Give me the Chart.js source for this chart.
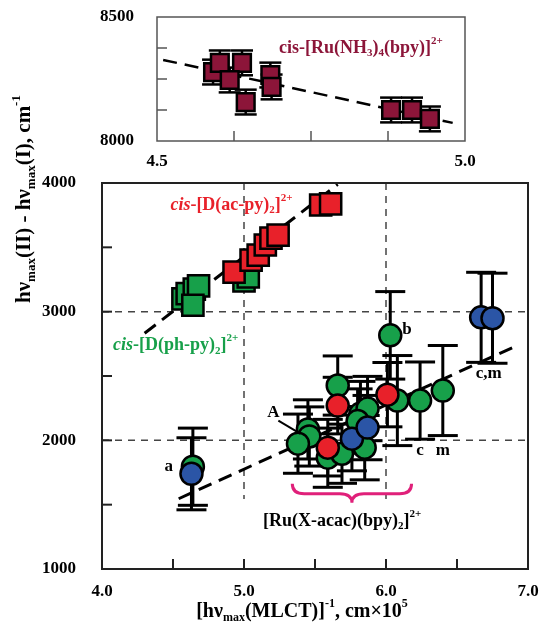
<!DOCTYPE html>
<html>
<head>
<meta charset="utf-8">
<script src="https://cdn.jsdelivr.net/npm/chart.js@4.4.0/dist/chart.umd.min.js"></script>
<style>
  html, body { margin: 0; padding: 0; background: #fff; overflow: hidden; }
  #wrap { position: relative; width: 541px; height: 631px; }
  canvas { position: absolute; left: 0; top: 0; }
</style>
</head>
<body>
<div id="wrap">
  <canvas id="mainChart" width="541" height="631" style="width:541px;height:631px"></canvas>
  <canvas id="insetChart" width="541" height="175" style="width:541px;height:175px"></canvas>
</div>
<script>
// main panel: squares (cis-[D(L)2]2+ series)
const sqRedX = [4.93, 5.05, 5.10, 5.15, 5.19, 5.24, 5.54, 5.61];
const sqRedY = [3307, 3400, 3440, 3518, 3572, 3595, 3829, 3837];
const sqGreenX = [4.57, 4.60, 4.65, 4.68, 4.64, 5.00, 5.03];
const sqGreenY = [3100, 3140, 3175, 3200, 3050, 3240, 3270];

// main panel: circles with error bars ([Ru(X-acac)(bpy)2]2+)
const cGreenX = [4.64, 5.45, 5.46, 5.38, 5.59, 5.69, 5.66, 5.82, 5.87, 5.85, 5.80, 6.03, 6.08, 6.24, 6.40];
const cGreenY = [1795, 2085, 2030, 1974, 1865, 1896, 2426, 2208, 2247, 1943, 2150, 2816, 2309, 2309, 2387];
const cGreenErr = [300, 230, 230, 230, 230, 230, 230, 250, 250, 250, 250, 340, 350, 300, 350];
const cRedX = [5.59, 5.66, 6.01];
const cRedY = [1943, 2270, 2355];
const cRedErr = [220, 220, 250];
const cBlueX = [4.63, 5.76, 5.87, 6.67, 6.75];
const cBlueY = [1740, 2013, 2099, 2956, 2949];
const cBlueErr = [280, 250, 250, 350, 350];

// fitted dashed lines (end points)
const fitSqX = [4.30, 5.66];
const fitSqY = [2832, 3990];
const fitCircX = [4.54, 6.93];
const fitCircY = [1546, 2740];

// inset: cis-[Ru(NH3)4(bpy)]2+
const insX = [4.591, 4.602, 4.638, 4.618, 4.644, 4.684, 4.686, 4.880, 4.914, 4.943];
const insY = [8278, 8315, 8315, 8246, 8157, 8266, 8218, 8125, 8125, 8089];
const insErr = 50;
const fitInsX = [4.51, 4.98];
const fitInsY = [8327, 8073];

// axis ticks
const mainMinorX = [4.5, 5.0, 5.5, 6.0, 6.5];
const mainMinorY = [1500, 2000, 2500, 3000, 3500];
const mainGridX = [5.0, 6.0];
const mainGridY = [2000, 3000];
const mainGridXBottom = 1545;   // vertical dashed lines stop here
const insMinorX = [4.625, 4.75, 4.875];
const insMinorY = [8125, 8250, 8375];

const RED = '#e8212a';
const GREEN = '#17a04a';
const BLUE = '#2b55a6';
const WINE = '#8c1539';
const SERIF = '"Liberation Serif", "Times New Roman", serif';

function pts(xs, ys) {
    return xs.map((x, i) => ({ x: x, y: ys[i] }));
}

// text with italic / sub / sup pieces, centred on (cx, cy)
function fontFor(kind, size) {
    const s = (kind === 'sub' || kind === 'sup') ? Math.round(size * 0.62) : size;
    return (kind === 'i' ? 'italic ' : '') + 'bold ' + s + 'px ' + SERIF;
}
function drawRich(ctx, parts, cx, cy, size, color) {
    let w = 0;
    parts.forEach(p => { ctx.font = fontFor(p[1], size); w += ctx.measureText(p[0]).width; });
    let x = cx - w / 2;
    ctx.fillStyle = color;
    ctx.textAlign = 'left';
    ctx.textBaseline = 'middle';
    parts.forEach(p => {
        ctx.font = fontFor(p[1], size);
        let dy = 0;
        if (p[1] === 'sub') dy = size * 0.3;
        if (p[1] === 'sup') dy = -size * 0.38;
        ctx.fillText(p[0], x, cy + dy);
        x += ctx.measureText(p[0]).width;
    });
}

function seg(ctx, x1, y1, x2, y2) {
    ctx.beginPath();
    ctx.moveTo(x1, y1);
    ctx.lineTo(x2, y2);
    ctx.stroke();
}

// dashed grid, error bars, inward ticks, x tick labels and frame
const framePlugin = {
    id: 'frame',
    beforeDatasetsDraw(chart, args, opts) {
        const { ctx, chartArea: a, scales: { x, y } } = chart;
        ctx.save();
        ctx.strokeStyle = '#444';
        ctx.lineWidth = 1.5;
        ctx.setLineDash([7, 6]);
        const gb = opts.gridXBottom !== undefined ? y.getPixelForValue(opts.gridXBottom) : a.bottom;
        (opts.gridX || []).forEach(v => { const p = x.getPixelForValue(v); seg(ctx, p, a.top, p, gb); });
        (opts.gridY || []).forEach(v => { const p = y.getPixelForValue(v); seg(ctx, a.left, p, a.right, p); });
        ctx.setLineDash([]);
        chart.data.datasets.forEach(ds => {
            if (ds.errors === undefined) return;
            ctx.strokeStyle = '#000';
            ctx.lineWidth = ds.errWidth || 3;
            ds.data.forEach((d, i) => {
                const e = Array.isArray(ds.errors) ? ds.errors[i] : ds.errors;
                const px = x.getPixelForValue(d.x);
                const top = y.getPixelForValue(d.y + e);
                const bot = y.getPixelForValue(d.y - e);
                const c = ds.capHalf;
                seg(ctx, px, top, px, bot);
                seg(ctx, px - c, top, px + c, top);
                seg(ctx, px - c, bot, px + c, bot);
            });
        });
        ctx.restore();
    },
    afterDraw(chart, args, opts) {
        const { ctx, chartArea: a, scales: { x, y } } = chart;
        ctx.save();
        ctx.strokeStyle = opts.frameColor;
        ctx.lineWidth = opts.frameWidth;
        (opts.ticksX || []).forEach(v => { const p = x.getPixelForValue(v); seg(ctx, p, a.bottom, p, a.bottom - opts.tickLen); });
        (opts.ticksY || []).forEach(v => { const p = y.getPixelForValue(v); seg(ctx, a.left, p, a.left + opts.tickLen, p); });
        ctx.strokeRect(a.left, a.top, a.right - a.left, a.bottom - a.top);
        // x tick labels from the scale's own ticks
        ctx.fillStyle = '#000';
        ctx.font = 'bold 17px ' + SERIF;
        ctx.textAlign = 'center';
        ctx.textBaseline = 'middle';
        x.ticks.forEach(t => ctx.fillText(t.value.toFixed(1), x.getPixelForValue(t.value), a.bottom + opts.xLabelOffset));
        if (opts.extra) opts.extra(chart);
        ctx.restore();
    }
};

const tickFont = { family: SERIF, size: 17, weight: 'bold' };

function mainExtras(chart) {
    const { ctx, scales: { x, y } } = chart;
    const X = v => x.getPixelForValue(v);
    const Y = v => y.getPixelForValue(v);

    drawRich(ctx, [['cis', 'i'], ['-[D(ac-py)', ''], ['2', 'sub'], [']', ''], ['2+', 'sup']], X(4.912), Y(3829), 18, RED);
    drawRich(ctx, [['cis', 'i'], ['-[D(ph-py)', ''], ['2', 'sub'], [']', ''], ['2+', 'sup']], X(4.519), Y(2738), 18, GREEN);
    drawRich(ctx, [['[Ru(X-acac)(bpy)', ''], ['2', 'sub'], [']', ''], ['2+', 'sup']], X(5.691), Y(1374), 18, '#000');

    // point labels
    [['a', 4.47, 1795], ['A', 5.207, 2216], ['b', 6.147, 2863], ['c', 6.239, 1920], ['m', 6.40, 1920], ['c,m', 6.723, 2520]]
        .forEach(l => drawRich(ctx, [[l[0], '']], X(l[1]), Y(l[2]), 17, '#000'));
    ctx.strokeStyle = '#000';
    ctx.lineWidth = 2;
    seg(ctx, X(5.242), Y(2153), X(5.396), Y(2052));

    // brace under the acac cluster
    const x1 = X(5.34), x2 = X(6.18), cx = X(5.76);
    const t = Y(1663), m = Y(1585), b = Y(1514);
    ctx.strokeStyle = '#e0207a';
    ctx.lineWidth = 3;
    ctx.beginPath();
    ctx.moveTo(x1, t);
    ctx.quadraticCurveTo(x1, m, x1 + 12, m);
    ctx.lineTo(cx - 12, m);
    ctx.quadraticCurveTo(cx, m, cx, b);
    ctx.quadraticCurveTo(cx, m, cx + 12, m);
    ctx.lineTo(x2 - 12, m);
    ctx.quadraticCurveTo(x2, m, x2, t);
    ctx.stroke();

    // axis titles
    drawRich(ctx, [['[hν', ''], ['max', 'sub'], ['(MLCT)]', ''], ['-1', 'sup'], [', cm×10', ''], ['5', 'sup']], 302, 612, 20, '#000');
    ctx.save();
    ctx.translate(25, 199);
    ctx.rotate(-Math.PI / 2);
    drawRich(ctx, [['hν', ''], ['max', 'sub'], ['(II) - hν', ''], ['max', 'sub'], ['(I), cm', ''], ['-1', 'sup']], 0, 0, 21, '#000');
    ctx.restore();
}

function insetExtras(chart) {
    const { ctx, scales: { x, y } } = chart;
    drawRich(ctx, [['cis-[Ru(NH', ''], ['3', 'sub'], [')', ''], ['4', 'sub'], ['(bpy)]', ''], ['2+', 'sup']],
        x.getPixelForValue(4.831), y.getPixelForValue(8375), 18, WINE);
}

function circles(xs, ys, errs, color, order) {
    return {
        data: pts(xs, ys), errors: errs, capHalf: 15, errWidth: 3,
        pointStyle: 'circle', pointRadius: 11, pointBorderWidth: 2.5,
        backgroundColor: color, borderColor: '#000', order: order
    };
}
function squares(xs, ys, color, radius, order) {
    return {
        data: pts(xs, ys), pointStyle: 'rect', pointRadius: radius, pointBorderWidth: 2.5,
        backgroundColor: color, borderColor: '#000', order: order
    };
}
function fitLine(xs, ys, width, order) {
    return {
        data: pts(xs, ys), showLine: true, pointRadius: 0, borderColor: '#000',
        borderWidth: width, borderDash: [14, 8], fill: false, order: order
    };
}

// fixed axis boxes
function fixHeight(h) {
    return s => { s.height = h; s.paddingLeft = 0; s.paddingRight = 0; };
}
function fixWidth(w) {
    return s => { s.width = w; s.paddingTop = 0; s.paddingBottom = 0; };
}

function createMainChart() {
    const ctx = document.getElementById('mainChart').getContext('2d');
    new Chart(ctx, {
        type: 'scatter',
        data: {
            datasets: [
                circles(cBlueX, cBlueY, cBlueErr, BLUE, 1),
                circles(cRedX, cRedY, cRedErr, RED, 2),
                circles(cGreenX, cGreenY, cGreenErr, GREEN, 3),
                squares(sqRedX, sqRedY, RED, 15, 4),
                squares(sqGreenX, sqGreenY, GREEN, 15, 5),
                fitLine(fitSqX, fitSqY, 3, 6),
                fitLine(fitCircX, fitCircY, 3, 7),
            ],
        },
        options: {
            responsive: false,
            animation: false,
            layout: { autoPadding: false, padding: { top: 183, right: 13, left: 0, bottom: 0 } },
            plugins: {
                legend: { display: false },
                tooltip: { enabled: false },
                frame: {
                    gridX: mainGridX, gridY: mainGridY, gridXBottom: mainGridXBottom,
                    ticksX: mainMinorX, ticksY: mainMinorY, xLabelOffset: 23,
                    tickLen: 10, frameColor: '#222', frameWidth: 2, extra: mainExtras
                },
            },
            scales: {
                x: {
                    type: 'linear', min: 4, max: 7,
                    afterFit: fixHeight(62),
                    grid: { display: false }, border: { display: false },
                    ticks: { stepSize: 1, display: false },
                },
                y: {
                    type: 'linear', min: 1000, max: 4000,
                    afterFit: fixWidth(102),
                    grid: { display: false }, border: { display: false },
                    ticks: { stepSize: 1000, padding: 18, color: '#000', font: tickFont, callback: v => String(v) },
                },
            },
        },
        plugins: [framePlugin],
    });
}

function createInsetChart() {
    const ctx = document.getElementById('insetChart').getContext('2d');
    new Chart(ctx, {
        type: 'scatter',
        data: {
            datasets: [
                Object.assign(squares(insX, insY, WINE, 12.5, 1), { errors: insErr, capHalf: 11, errWidth: 2.5 }),
                fitLine(fitInsX, fitInsY, 2.5, 2),
            ],
        },
        options: {
            responsive: false,
            animation: false,
            layout: { autoPadding: false, padding: { top: 17, right: 76, left: 0, bottom: 0 } },
            plugins: {
                legend: { display: false },
                tooltip: { enabled: false },
                frame: {
                    ticksX: insMinorX, ticksY: insMinorY, xLabelOffset: 21,
                    tickLen: 10, frameColor: '#555', frameWidth: 1.5, extra: insetExtras
                },
            },
            scales: {
                x: {
                    type: 'linear', min: 4.5, max: 5.0,
                    afterFit: fixHeight(34),
                    grid: { display: false }, border: { display: false },
                    ticks: { stepSize: 0.5, display: false },
                },
                y: {
                    type: 'linear', min: 8000, max: 8500,
                    afterFit: fixWidth(157),
                    grid: { display: false }, border: { display: false },
                    ticks: { stepSize: 500, padding: 15, color: '#000', font: tickFont, callback: v => String(v) },
                },
            },
        },
        plugins: [framePlugin],
    });
}

document.addEventListener('DOMContentLoaded', function () {
    createMainChart();
    createInsetChart();
});
</script>
</body>
</html>
